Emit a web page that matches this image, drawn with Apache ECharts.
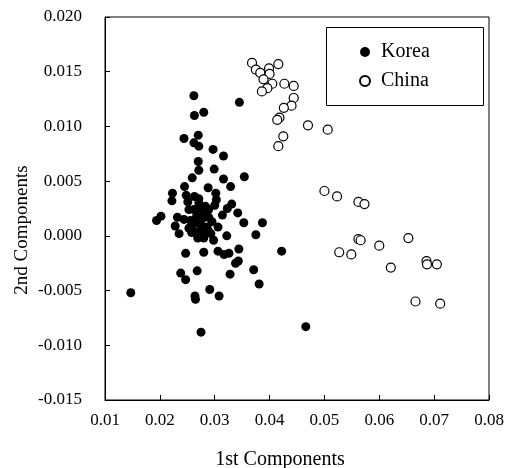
<!DOCTYPE html>
<html>
<head>
<meta charset="utf-8">
<script src="https://cdn.jsdelivr.net/npm/echarts@6/dist/echarts.min.js"></script>
<style>
html,body{margin:0;padding:0;background:#fff;}
#chart{width:508px;height:468px;}
</style>
</head>
<body>
<div id="chart"></div>
<script>
var seriesNames = ['Korea', 'China'];
var xTitle = '1st Components';
var yTitle = '2nd Components';

var koreaX = [0.0147,0.0262,0.0345,0.0263,0.0280,0.0244,0.0270,0.0262,0.0271,0.0297,
  0.0316,0.0270,0.0271,0.0299,0.0259,0.0316,0.0354,0.0329,0.0245,0.0288,
  0.0223,0.0222,0.0248,0.0263,0.0302,0.0303,0.0251,0.0271,0.0331,0.0323,
  0.0314,0.0342,0.0202,0.0194,0.0232,0.0244,0.0228,0.0235,0.0306,0.0353,
  0.0387,0.0322,0.0375,0.0247,0.0280,0.0306,0.0317,0.0326,0.0344,0.0338,
  0.0343,0.0422,0.0238,0.0247,0.0268,0.0328,0.0371,0.0381,0.0264,0.0265,
  0.0291,0.0308,0.0275,0.0466,0.0262,0.0271,0.0280,0.0289,0.0267,0.0278,
  0.0289,0.0295,0.0264,0.0275,0.0286,0.0271,0.0282,0.0293,0.0260,0.0269,
  0.0280,0.0258,0.0283,0.0271,0.0300,0.0253,0.0298,0.0256,0.0253,0.0289];
var koreaY = [-0.0052,0.0128,0.0122,0.0110,0.0113,0.0089,0.0092,0.0085,0.0082,0.0079,
  0.0073,0.0068,0.0060,0.0061,0.0053,0.0052,0.0054,0.0045,0.0045,0.0044,
  0.0039,0.0032,0.0037,0.0036,0.0039,0.0033,0.0031,0.0030,0.0029,0.0025,
  0.0019,0.0021,0.0018,0.0014,0.0017,0.0015,0.0009,0.0002,0.0008,0.0012,
  0.0012,0.0000,0.0001,-0.0016,-0.0015,-0.0014,-0.0017,-0.0016,-0.0012,-0.0025,
  -0.0023,-0.0014,-0.0034,-0.0040,-0.0032,-0.0035,-0.0031,-0.0044,-0.0055,-0.0058,
  -0.0049,-0.0055,-0.0088,-0.0083,0.0024,0.0025,0.0022,0.0024,0.0018,0.0016,
  0.0017,0.0013,0.0012,0.0010,0.0008,0.0004,0.0003,0.0002,0.0005,-0.0002,
  -0.0002,0.0003,0.0027,0.0034,0.0028,0.0024,-0.0004,0.0014,0.0007,0.0004];

var chinaX = [0.0368,0.0375,0.0383,0.0399,0.0416,0.0400,0.0389,0.0405,0.0396,0.0386,
  0.0427,0.0444,0.0444,0.0440,0.0426,0.0418,0.0414,0.0470,0.0506,0.0425,
  0.0416,0.0500,0.0523,0.0562,0.0573,0.0562,0.0566,0.0600,0.0653,0.0527,
  0.0549,0.0621,0.0686,0.0687,0.0705,0.0666,0.0711];
var chinaY = [0.0158,0.0152,0.0149,0.0153,0.0157,0.0148,0.0143,0.0139,0.0135,0.0132,
  0.0139,0.0137,0.0126,0.0119,0.0117,0.0108,0.0106,0.0101,0.0097,0.0091,
  0.0082,0.0041,0.0036,0.0031,0.0029,-0.0003,-0.0004,-0.0009,-0.0002,-0.0015,
  -0.0017,-0.0029,-0.0023,-0.0026,-0.0026,-0.0060,-0.0062];

function zip(a, b) { return a.map(function (v, i) { return [v, b[i]]; }); }

var FONT = '"Liberation Serif", "Times New Roman", serif';
var chart = echarts.init(document.getElementById('chart'), null, {renderer: 'canvas'});
chart.setOption({
  animation: false,
  backgroundColor: '#fff',
  grid: {left: 105, right: 19, top: 17, bottom: 68, show: true, borderColor: '#000', borderWidth: 1, backgroundColor: 'transparent'},
  xAxis: {
    type: 'value', min: 0.01, max: 0.08, interval: 0.01,
    axisLine: {show: true, onZero: false, lineStyle: {color: '#000', width: 1}},
    axisTick: {show: true, inside: true, length: 5, lineStyle: {color: '#000'}},
    splitLine: {show: false},
    axisLabel: {color: '#000', fontFamily: FONT, fontSize: 17, margin: 12,
      formatter: function (v) { return v.toFixed(2); }}
  },
  yAxis: {
    type: 'value', min: -0.015, max: 0.02, interval: 0.005,
    axisLine: {show: true, onZero: false, lineStyle: {color: '#000', width: 1}},
    axisTick: {show: true, inside: true, length: 5, lineStyle: {color: '#000'}},
    splitLine: {show: false},
    axisLabel: {color: '#000', fontFamily: FONT, fontSize: 17, margin: 23,
      formatter: function (v) { return v.toFixed(3); }}
  },
  legend: {
    orient: 'vertical', left: 359, top: 42, padding: 0, itemGap: 9,
    itemWidth: 10, itemHeight: 10, icon: 'circle',
    textStyle: {color: '#000', fontFamily: FONT, fontSize: 20, lineHeight: 20, padding: [0, 0, 0, 6]},
    data: seriesNames
  },
  graphic: [
    {type: 'rect', shape: {x: 326.5, y: 27.5, width: 157, height: 78},
      style: {fill: 'none', stroke: '#000', lineWidth: 1}, z: 100},
    {type: 'text', x: 280, y: 460, style: {text: xTitle, font: '20px ' + FONT, fill: '#000', textAlign: 'center', textVerticalAlign: 'middle'}},
    {type: 'text', x: 22, y: 230, rotation: Math.PI / 2, style: {text: yTitle, font: '19px ' + FONT, fill: '#000', textAlign: 'center', textVerticalAlign: 'middle'}}
  ],
  series: [
    {name: seriesNames[0], type: 'scatter', symbol: 'circle', symbolSize: 9,
      itemStyle: {color: '#000', opacity: 1}, data: zip(koreaX, koreaY)},
    {name: seriesNames[1], type: 'scatter', symbol: 'circle', symbolSize: 9,
      itemStyle: {color: '#fff', borderColor: '#000', borderWidth: 1.2, opacity: 1}, data: zip(chinaX, chinaY)}
  ]
});
</script>
</body>
</html>
